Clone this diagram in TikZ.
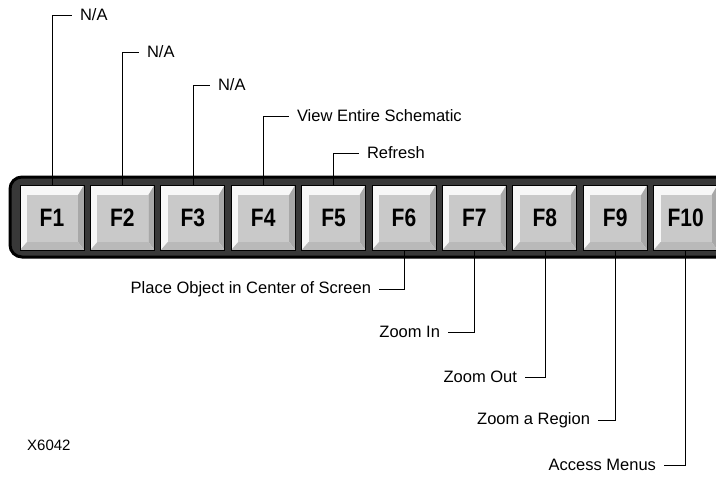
\documentclass[tikz,border=0pt]{standalone}
\usepackage{fontspec}
\setmainfont{Liberation Sans}

\tikzset{
  keyface/.style={draw=black, line width=0.8pt, fill=gray!6,
    minimum width=64pt, minimum height=65pt, inner sep=0pt,
    font=\bfseries\fontsize{21}{21}\selectfont,
    path picture={
      % right side
      \fill[gray!68] (path picture bounding box.north east) -- (path picture bounding box.south east)
        -- ([shift={(-6pt,8pt)}]path picture bounding box.south east)
        -- ([shift={(-6pt,-10pt)}]path picture bounding box.north east) -- cycle;
      % bottom side
      \fill[gray!55] (path picture bounding box.south west) -- (path picture bounding box.south east)
        -- ([shift={(-6pt,8pt)}]path picture bounding box.south east)
        -- ([shift={(7pt,8pt)}]path picture bounding box.south west) -- cycle;
      % top of key
      \fill[gray!42] ([shift={(7pt,-10pt)}]path picture bounding box.north west)
        rectangle ([shift={(-6pt,8pt)}]path picture bounding box.south east);
    }},
  lbl/.style={inner sep=0pt, outer xsep=8pt, font=\fontsize{16.5}{16.5}\selectfont},
  lead/.style={line width=0.6pt},
}

\begin{document}
\begin{tikzpicture}[x=1pt,y=-1pt]

  \useasboundingbox (0,0) rectangle (716,477);

  % Frame
  \begin{scope}
    \clip (0,0) rectangle (716,477);
    \draw[rounded corners=12pt, line width=3pt, fill=black!78] (10,177) rectangle (750,257);
  \end{scope}

  % Keys
  \foreach \i in {1,...,10}
    \node[keyface] (f\i) at ({52+(\i-1)*70.4},217.5) {\scalebox{1}[1.2]{F\i}};

  % Labels above
  \node[lbl, anchor=west] (na1) at (72,15) {N/A};
  \node[lbl, anchor=west] (na2) at (139,52) {N/A};
  \node[lbl, anchor=west] (na3) at (210,85) {N/A};
  \node[lbl, anchor=west] (view) at (289,116) {View Entire Schematic};
  \node[lbl, anchor=west] (refresh) at (359,153) {Refresh};

  % Labels below
  \node[lbl, anchor=east] (place) at (379,289) {Place Object in Center of Screen};
  \node[lbl, anchor=east] (zin) at (448,332) {Zoom In};
  \node[lbl, anchor=east] (zout) at (525,377) {Zoom Out};
  \node[lbl, anchor=east] (region) at (598,420) {Zoom a Region};
  \node[lbl, anchor=east] (menus) at (664,465) {Access Menus};

  \node[anchor=west, inner sep=0pt, font=\fontsize{15}{15}\selectfont] (fig) at (27,445) {X6042};

  % Leaders
  \draw[lead] (f1.north) |- (na1.west);
  \draw[lead] (f2.north) |- (na2.west);
  \draw[lead] (f3.north) |- (na3.west);
  \draw[lead] (f4.north) |- (view.west);
  \draw[lead] (f5.north) |- (refresh.west);
  \draw[lead] (f6.south) |- (place.east);
  \draw[lead] (f7.south) |- (zin.east);
  \draw[lead] (f8.south) |- (zout.east);
  \draw[lead] (f9.south) |- (region.east);
  \draw[lead] (f10.south) |- (menus.east);

\end{tikzpicture}
\end{document}
